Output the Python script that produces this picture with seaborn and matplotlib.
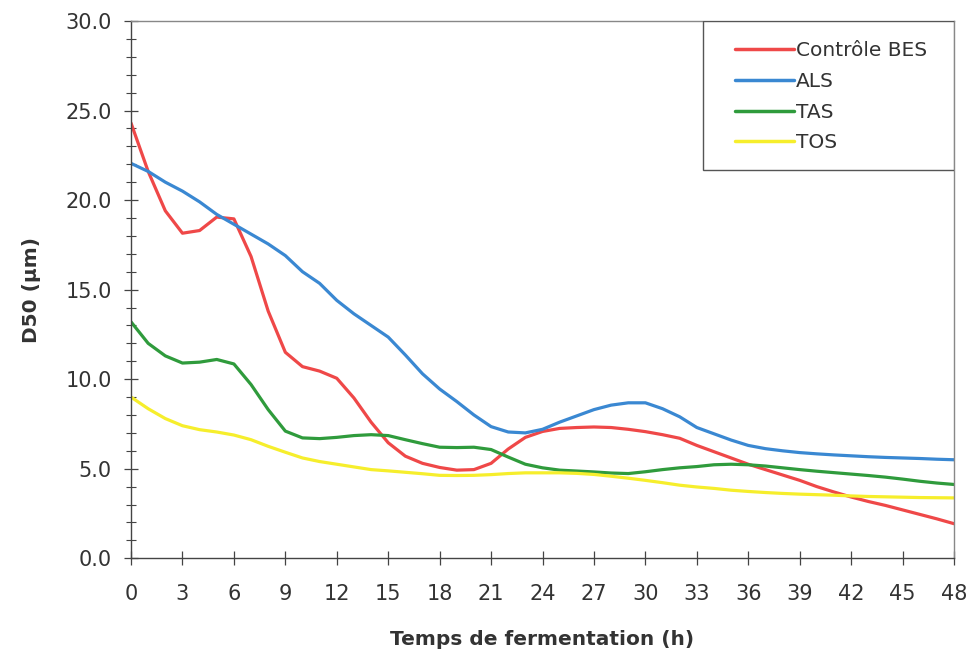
import numpy as np
import pandas as pd
import matplotlib
matplotlib.use("Agg")
import matplotlib.pyplot as plt
import seaborn as sns
from matplotlib.ticker import MultipleLocator
from matplotlib.patches import Rectangle

# ---- data ----
hours = list(range(0, 49))

controle_bes = [24.3, 21.6, 19.4, 18.15, 18.3, 19.05, 18.95, 16.85, 13.8, 11.5,
                10.7, 10.45, 10.05, 8.95, 7.6, 6.45, 5.7, 5.3, 5.07, 4.92,
                4.95, 5.3, 6.1, 6.75, 7.08, 7.25, 7.3, 7.33, 7.3, 7.2,
                7.07, 6.9, 6.7, 6.3, 5.95, 5.6, 5.25, 4.95, 4.65, 4.35,
                4.0, 3.7, 3.42, 3.17, 2.95, 2.7, 2.45, 2.2, 1.93]
als = [22.05, 21.6, 21.0, 20.5, 19.9, 19.2, 18.65, 18.1, 17.55, 16.9,
       16.0, 15.35, 14.4, 13.65, 13.0, 12.35, 11.35, 10.3, 9.45, 8.75,
       8.0, 7.35, 7.05, 7.0, 7.2, 7.6, 7.95, 8.3, 8.55, 8.68,
       8.68, 8.35, 7.9, 7.3, 6.95, 6.6, 6.3, 6.12, 6.0, 5.9,
       5.83, 5.77, 5.72, 5.67, 5.63, 5.6, 5.57, 5.53, 5.5]
tas = [13.2, 12.0, 11.3, 10.9, 10.95, 11.1, 10.85, 9.7, 8.3, 7.1,
       6.72, 6.68, 6.75, 6.85, 6.9, 6.85, 6.62, 6.4, 6.2, 6.18,
       6.2, 6.07, 5.65, 5.25, 5.05, 4.92, 4.87, 4.82, 4.76, 4.73,
       4.83, 4.95, 5.05, 5.12, 5.22, 5.25, 5.22, 5.15, 5.05, 4.95,
       4.86, 4.78, 4.7, 4.62, 4.53, 4.42, 4.3, 4.2, 4.12]
tos = [9.0, 8.35, 7.8, 7.4, 7.18, 7.05, 6.88, 6.62, 6.25, 5.92,
       5.6, 5.4, 5.25, 5.1, 4.95, 4.88, 4.8, 4.72, 4.63, 4.62,
       4.63, 4.67, 4.73, 4.77, 4.77, 4.77, 4.74, 4.68, 4.58, 4.47,
       4.35, 4.22, 4.08, 3.98, 3.9, 3.8, 3.73, 3.67, 3.62, 3.58,
       3.55, 3.52, 3.48, 3.45, 3.43, 3.41, 3.39, 3.38, 3.37]

series_names = ["Contrôle BES", "ALS", "TAS", "TOS"]
series_values = [controle_bes, als, tas, tos]
colors = ["#ef4848", "#3a88d2", "#2f9b3c", "#f6ee2c"]

x_ticks = list(range(0, 49, 3))
y_ticks = [0, 5, 10, 15, 20, 25, 30]

df = pd.concat(
    [pd.DataFrame({"Temps": hours, "D50": vals, "Série": name})
     for name, vals in zip(series_names, series_values)],
    ignore_index=True,
)

# ---- plot ----
sns.set_style("ticks")
plt.rcParams["font.family"] = ["DejaVu Sans"]
text_color = "#333333"

fig = plt.figure(figsize=(9.72, 6.56), dpi=100)
ax = fig.add_axes([0.1348, 0.149, 0.8467, 0.819])

sns.lineplot(data=df, x="Temps", y="D50", hue="Série", hue_order=series_names,
             palette=colors, linewidth=2.3, estimator=None, sort=False, ax=ax)
for ln in ax.get_lines():
    ln.set_solid_joinstyle("round")
    ln.set_solid_capstyle("round")

ax.set_xlim(0, 48)
ax.set_ylim(0, 30)
ax.set_xticks(x_ticks)
ax.set_xticklabels([str(t) for t in x_ticks])
ax.set_yticks(y_ticks)
ax.set_yticklabels([f"{v:.1f}" for v in y_ticks])
ax.yaxis.set_minor_locator(MultipleLocator(1))

ax.tick_params(axis="both", which="major", direction="inout", length=10, width=0.9,
               colors="#444444", labelcolor=text_color, labelsize=15)
ax.tick_params(axis="x", which="major", pad=13.5)
ax.tick_params(axis="y", which="major", pad=8.7)
ax.tick_params(axis="y", which="minor", direction="inout", length=7, width=0.8, colors="#444444")

for side in ["left", "bottom"]:
    ax.spines[side].set_color("#444444")
    ax.spines[side].set_linewidth(1.0)
for side in ["top", "right"]:
    ax.spines[side].set_visible(True)
    ax.spines[side].set_color("#888888")
    ax.spines[side].set_linewidth(1.0)

ax.set_xlabel("Temps de fermentation (h)", fontsize=14.5, fontweight="bold",
              color=text_color, labelpad=18.5)
ax.set_ylabel("D50 (µm)", fontsize=14.5, fontweight="bold", color=text_color, labelpad=18)

# legend frame (drawn as a box in axes coordinates) and entries
ax.add_patch(Rectangle((0.695, 0.7225), 0.305, 0.2775, transform=ax.transAxes,
                       facecolor="white", edgecolor="#555555", linewidth=1.0, zorder=4))
handles, labels = ax.get_legend_handles_labels()
leg = ax.legend(handles, labels, loc="upper left", bbox_to_anchor=(0.734, 0.962),
                frameon=False, fontsize=14.5, handlelength=2.9,
                handletextpad=0.1, labelspacing=0.58, borderpad=0.0,
                borderaxespad=0.0, labelcolor=text_color)
leg.set_zorder(5)
for line in leg.get_lines():
    line.set_linewidth(2.5)

fig.savefig("out.png", dpi=100)
